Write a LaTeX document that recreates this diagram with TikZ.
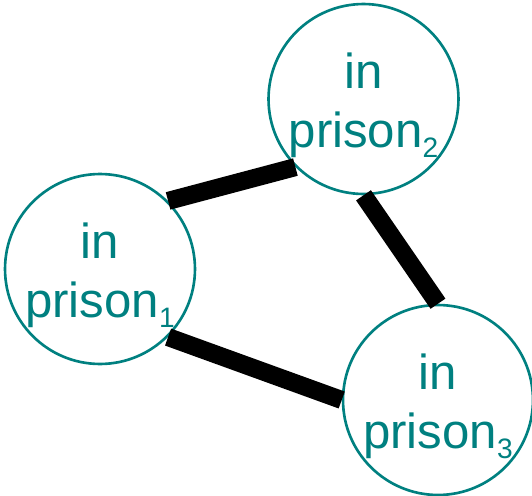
\documentclass[tikz,border=0pt]{standalone}
\usepackage{fontspec}
\setmainfont{Liberation Sans}
\usepackage{xcolor}
\usepackage{tikz}
\usetikzlibrary{positioning}
\definecolor{prisonteal}{RGB}{0,128,128}
\newcommand\cellno[1]{\raisebox{-5.7pt}{\fontsize{16pt}{16pt}\selectfont #1}}
\newcommand\inprison[1]{\rule{0pt}{27pt}in\\prison\cellno{#1}}

\begin{document}
\begin{tikzpicture}[x=0.02cm,y=0.02cm,
  prison/.style={circle,draw=prisonteal,line width=1.5pt,minimum size=3.8cm,inner sep=0pt,
    text=prisonteal,align=center,font=\fontsize{28pt}{33.6pt}\selectfont},
  tie/.style={line width=0.36cm,black}]
\useasboundingbox (0,0) rectangle (532,495);
\node[prison] (p1) at (100,226) {\inprison{1}};
\node[prison] (p2) at (363.5,396) {\inprison{2}};
\node[prison] (p3) at (438,95) {\inprison{3}};
\draw[tie] (p1.45) -- (p2.225);
\draw[tie] (p2.270) -- (p3.90);
\draw[tie] (p1.-45) -- (p3.180);
\end{tikzpicture}
\end{document}
